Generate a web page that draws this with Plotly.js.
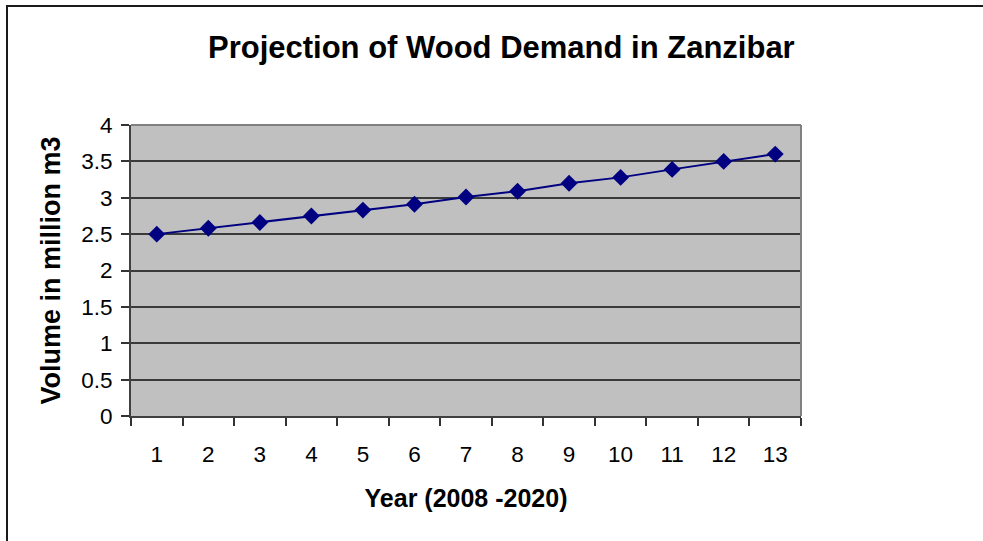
<!DOCTYPE html>
<html>
<head>
<meta charset="utf-8">
<script src="https://cdn.plot.ly/plotly-3.0.1.min.js"></script>
<style>
html, body { margin: 0; padding: 0; background: #ffffff; overflow: hidden; }
#chart { width: 983px; height: 541px; }
#frame { position: absolute; left: 6px; top: 5px; width: 1100px; height: 700px; border-left: 2px solid #1a1a1a; border-top: 2px solid #1a1a1a; pointer-events: none; }
</style>
</head>
<body>
<div id="chart"></div>
<div id="frame"></div>
<script>
const years = ["1","2","3","4","5","6","7","8","9","10","11","12","13"];
const volume = [2.5, 2.58, 2.66, 2.75, 2.83, 2.91, 3.01, 3.09, 3.2, 3.28, 3.39, 3.5, 3.6];
const yTicks = [0, 0.5, 1, 1.5, 2, 2.5, 3, 3.5, 4];

const font = "Liberation Sans, Arial, sans-serif";

const trace = {
  x: years,
  y: volume,
  type: "scatter",
  mode: "lines+markers",
  line: { color: "#000080", width: 2 },
  marker: { symbol: "diamond", size: 13, color: "#000080" },
  cliponaxis: false,
  hoverinfo: "x+y"
};

const layout = {
  width: 983,
  height: 541,
  margin: { l: 131, r: 182, t: 125, b: 125 },
  paper_bgcolor: "#ffffff",
  plot_bgcolor: "#c0c0c0",
  showlegend: false,
  font: { family: font, color: "#000000" },
  title: {
    text: "<b>Projection of Wood Demand in Zanzibar</b>",
    font: { family: font, size: 31, color: "#000000" },
    x: 0.51, xref: "container", xanchor: "center",
    y: 0.912, yref: "container", yanchor: "middle"
  },
  xaxis: {
    type: "category",
    range: [-0.5, 12.5],
    tickson: "boundaries",
    ticks: "outside",
    ticklen: 8,
    tickwidth: 1.5,
    tickcolor: "#333333",
    showline: true,
    linecolor: "#404040",
    linewidth: 2,
    showgrid: false,
    zeroline: false,
    tickfont: { family: font, size: 22.5, color: "#000000" },
    ticklabelstandoff: 17,
    title: {
      text: "<b>Year (2008 -2020)</b>",
      font: { family: font, size: 25, color: "#000000" },
      standoff: 23
    }
  },
  yaxis: {
    range: [0, 4],
    tickvals: yTicks,
    ticktext: yTicks.map(String),
    ticks: "outside",
    ticklen: 8,
    tickwidth: 1.5,
    tickcolor: "#333333",
    showline: true,
    linecolor: "#404040",
    linewidth: 2,
    showgrid: true,
    gridcolor: "#3a3a3a",
    gridwidth: 1.5,
    zeroline: false,
    tickfont: { family: font, size: 22.5, color: "#000000" },
    ticklabelstandoff: 4,
    title: {
      text: "<b>Volume in million m3</b>",
      font: { family: font, size: 27, color: "#000000" },
      standoff: 13
    }
  },
  shapes: [
    { type: "line", xref: "paper", yref: "paper", x0: 0, x1: 1, y0: 1, y1: 1, line: { color: "#808080", width: 2 } },
    { type: "line", xref: "paper", yref: "paper", x0: 1, x1: 1, y0: 0, y1: 1, line: { color: "#808080", width: 2 } }
  ]
};

Plotly.newPlot("chart", [trace], layout, { displayModeBar: false, staticPlot: false });
</script>
</body>
</html>
